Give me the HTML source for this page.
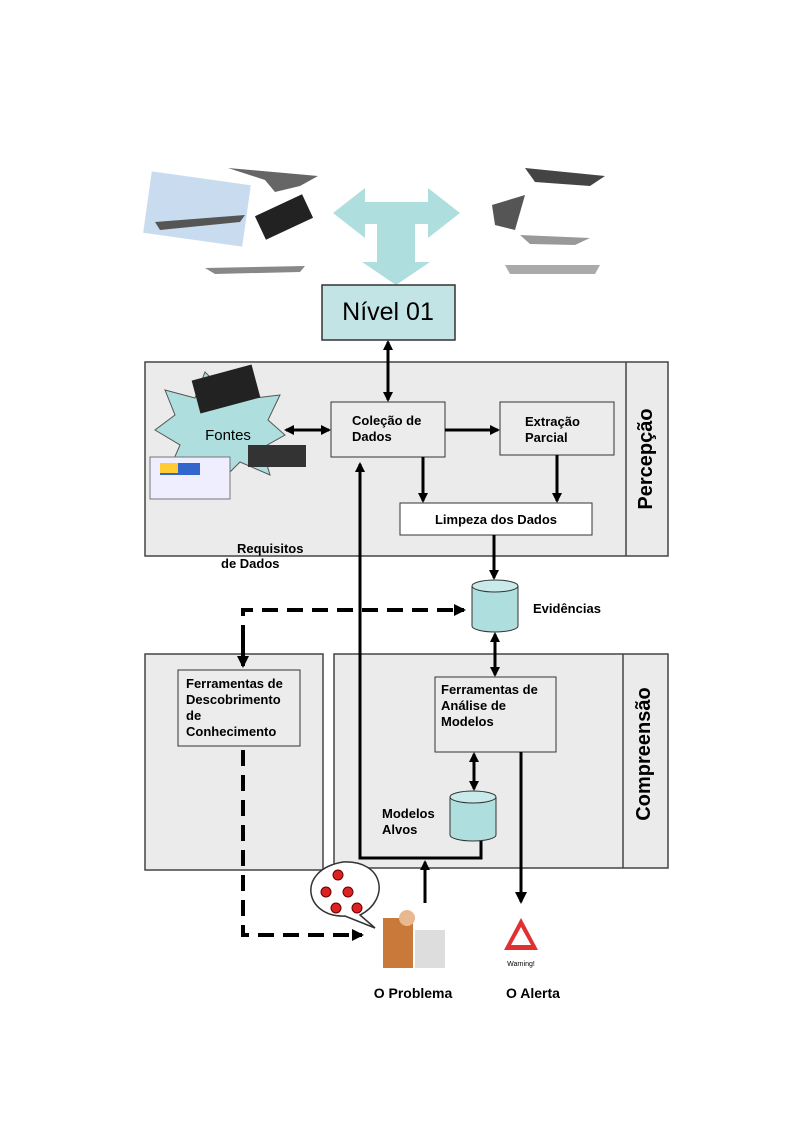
<!DOCTYPE html>
<html><head><meta charset="utf-8"><style>
body{margin:0;background:#fff;}
svg text{font-family:"Liberation Sans",sans-serif;}
</style></head><body>
<svg width="794" height="1123" viewBox="0 0 794 1123" xmlns="http://www.w3.org/2000/svg">
<defs>
<marker id="a" markerWidth="10" markerHeight="10" refX="8" refY="5" orient="auto-start-reverse" markerUnits="userSpaceOnUse"><path d="M0,0 L10,5 L0,10 z" fill="#000"/></marker>
<marker id="b" markerWidth="12" markerHeight="12" refX="10" refY="6" orient="auto-start-reverse" markerUnits="userSpaceOnUse"><path d="M0,0 L12,6 L0,12 z" fill="#000"/></marker>
</defs>
<rect x="147" y="178" width="100" height="62" fill="#c9dcef" transform="rotate(8 197 209)"/>
<path d="M155,222 L245,215 L240,222 L160,230 z" fill="#555"/>
<path d="M228,168 L318,176 L300,186 L275,192 L265,180 z" fill="#666"/>
<rect x="258" y="204" width="52" height="26" fill="#222" transform="rotate(-25 284 217)"/>
<path d="M205,268 L305,266 L300,272 L215,274 z" fill="#888"/>
<path d="M525,168 L605,176 L590,186 L535,182 z" fill="#444"/>
<path d="M492,205 L525,195 L515,230 L495,225 z" fill="#555"/>
<path d="M520,235 L590,238 L575,245 L530,244 z" fill="#999"/>
<path d="M505,265 L600,265 L595,274 L510,274 z" fill="#aaa"/>
<path d="M333,213 L365,188 L365,202 L428,202 L428,188 L460,213 L428,238 L428,224 L415,224 L415,262 L430,262 L396,285 L362,262 L377,262 L377,224 L365,224 L365,238 z" fill="#aedede"/>
<rect x="322" y="285" width="133" height="55" fill="#c3e4e4" stroke="#333" stroke-width="1.5"/>
<text x="388" y="320" font-size="25" text-anchor="middle">Nível 01</text>
<rect x="145" y="362" width="523" height="194" fill="#ebebeb" stroke="#444" stroke-width="1.5"/>
<line x1="626" y1="362" x2="626" y2="556" stroke="#444" stroke-width="1.5"/>
<text transform="translate(652 459) rotate(-90)" font-size="20" font-weight="bold" text-anchor="middle">Percepção</text>
<line x1="388" y1="342" x2="388" y2="400" stroke="#000" stroke-width="3" marker-end="url(#a)" marker-start="url(#a)"/>
<path d="M165,390 L195,398 L205,372 L225,392 L250,370 L255,398 L280,395 L268,420 L285,435 L262,448 L270,475 L240,462 L220,482 L205,460 L170,468 L180,445 L155,430 L175,415 z" fill="#aedede" stroke="#555"/>
<rect x="195" y="372" width="62" height="34" fill="#222" transform="rotate(-15 226 389)"/>
<rect x="150" y="457" width="80" height="42" fill="#eef" stroke="#777"/>
<rect x="160" y="463" width="40" height="12" fill="#3366cc"/>
<rect x="160" y="463" width="18" height="10" fill="#ffcc33"/>
<rect x="248" y="445" width="58" height="22" fill="#333"/>
<text x="228" y="440" font-size="15" text-anchor="middle">Fontes</text>
<line x1="286" y1="430" x2="329" y2="430" stroke="#000" stroke-width="3" marker-end="url(#a)" marker-start="url(#a)"/>
<rect x="331" y="402" width="114" height="55" fill="#ececec" stroke="#333"/>
<text x="352" y="425" font-size="13" font-weight="bold">Coleção de</text>
<text x="352" y="441" font-size="13" font-weight="bold">Dados</text>
<line x1="445" y1="430" x2="498" y2="430" stroke="#000" stroke-width="3" marker-end="url(#a)"/>
<rect x="500" y="402" width="114" height="53" fill="#ececec" stroke="#333"/>
<text x="525" y="426" font-size="13" font-weight="bold">Extração</text>
<text x="525" y="442" font-size="13" font-weight="bold">Parcial</text>
<line x1="423" y1="457" x2="423" y2="501" stroke="#000" stroke-width="3" marker-end="url(#a)"/>
<line x1="557" y1="455" x2="557" y2="501" stroke="#000" stroke-width="3" marker-end="url(#a)"/>
<rect x="400" y="503" width="192" height="32" fill="#fff" stroke="#333"/>
<text x="496" y="524" font-size="13" font-weight="bold" text-anchor="middle">Limpeza dos Dados</text>
<line x1="494" y1="535" x2="494" y2="578" stroke="#000" stroke-width="3" marker-end="url(#a)"/>
<text x="237" y="553" font-size="13" font-weight="bold">Requisitos</text>
<text x="221" y="568" font-size="13" font-weight="bold">de Dados</text>
<path d="M472,586 L472,626 A23,6 0 0 0 518,626 L518,586" fill="#aedede" stroke="#333"/>
<ellipse cx="495" cy="586" rx="23" ry="6" fill="#c8eaea" stroke="#333"/>
<text x="533" y="613" font-size="13" font-weight="bold">Evidências</text>
<rect x="145" y="654" width="178" height="216" fill="#ebebeb" stroke="#444" stroke-width="1.5"/>
<rect x="334" y="654" width="334" height="214" fill="#ebebeb" stroke="#444" stroke-width="1.5"/>
<line x1="623" y1="654" x2="623" y2="868" stroke="#444" stroke-width="1.5"/>
<text transform="translate(650 754) rotate(-90)" font-size="20" font-weight="bold" text-anchor="middle">Compreensão</text>
<line x1="495" y1="634" x2="495" y2="675" stroke="#000" stroke-width="3" marker-end="url(#a)" marker-start="url(#a)"/>
<rect x="178" y="670" width="122" height="76" fill="#ececec" stroke="#333"/>
<text x="186" y="688" font-size="13" font-weight="bold">Ferramentas de</text>
<text x="186" y="704" font-size="13" font-weight="bold">Descobrimento</text>
<text x="186" y="720" font-size="13" font-weight="bold">de</text>
<text x="186" y="736" font-size="13" font-weight="bold">Conhecimento</text>
<rect x="435" y="677" width="121" height="75" fill="#ececec" stroke="#333"/>
<text x="441" y="694" font-size="13" font-weight="bold">Ferramentas de</text>
<text x="441" y="710" font-size="13" font-weight="bold">Análise de</text>
<text x="441" y="726" font-size="13" font-weight="bold">Modelos</text>
<line x1="474" y1="754" x2="474" y2="789" stroke="#000" stroke-width="3" marker-end="url(#a)" marker-start="url(#a)"/>
<path d="M450,797 L450,835 A23,6 0 0 0 496,835 L496,797" fill="#aedede" stroke="#333"/>
<ellipse cx="473" cy="797" rx="23" ry="6" fill="#c8eaea" stroke="#333"/>
<text x="382" y="818" font-size="13" font-weight="bold">Modelos</text>
<text x="382" y="834" font-size="13" font-weight="bold">Alvos</text>
<polyline points="481,841 481,858 360,858 360,464" fill="none" stroke="#000" stroke-width="3" marker-end="url(#a)"/>
<line x1="425" y1="903" x2="425" y2="862" stroke="#000" stroke-width="3" marker-end="url(#a)"/>
<line x1="521" y1="752" x2="521" y2="902" stroke="#000" stroke-width="3" marker-end="url(#b)"/>
<polyline points="243,666 243,610 464,610" fill="none" stroke="#000" stroke-width="4" stroke-dasharray="16,9" marker-end="url(#b)"/>
<line x1="243" y1="640" x2="243" y2="666" stroke="#000" stroke-width="4" marker-end="url(#b)"/>
<polyline points="243,750 243,935 362,935" fill="none" stroke="#000" stroke-width="4" stroke-dasharray="16,9" marker-end="url(#b)"/>
<path d="M343,862 C385,860 390,900 360,915 L375,928 L345,916 C305,918 295,870 343,862 z" fill="#fff" stroke="#333" stroke-width="1.5"/>
<g fill="#d22" stroke="#600"><circle cx="338" cy="875" r="5"/><circle cx="326" cy="892" r="5"/><circle cx="348" cy="892" r="5"/><circle cx="336" cy="908" r="5"/><circle cx="357" cy="908" r="5"/></g>
<rect x="383" y="918" width="30" height="50" fill="#c97a3a"/>
<circle cx="407" cy="918" r="8" fill="#e8b890"/>
<rect x="415" y="930" width="30" height="38" fill="#ddd"/>
<text x="413" y="998" font-size="14" font-weight="bold" text-anchor="middle">O Problema</text>
<path d="M521,918 L538,950 L504,950 z" fill="#e03030"/>
<path d="M521,927 L531,945 L511,945 z" fill="#fff"/>
<text x="521" y="966" font-size="7" text-anchor="middle">Warning!</text>
<text x="533" y="998" font-size="14" font-weight="bold" text-anchor="middle">O Alerta</text>
</svg>
</body></html>
